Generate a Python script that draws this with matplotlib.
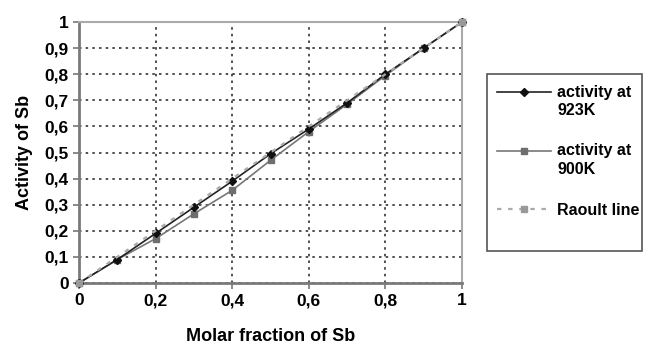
import matplotlib.pyplot as plt
from matplotlib.patches import Rectangle
from matplotlib.lines import Line2D

plt.rcParams['font.family'] = ['Liberation Sans', 'DejaVu Sans']

# Molar fraction of Sb
x_frac = [0, 0.1, 0.2, 0.3, 0.4, 0.5, 0.6, 0.7, 0.8, 0.9, 1.0]
# activity at 923K
act_923 = [0, 0.09, 0.19, 0.29, 0.39, 0.495, 0.59, 0.69, 0.80, 0.90, 1.0]
# activity at 900K
act_900 = [0, 0.09, 0.17, 0.265, 0.355, 0.47, 0.58, 0.685, 0.795, 0.90, 1.0]
# Raoult line (ideal solution)
raoult_x = [0, 1]
raoult_y = [0, 1]

x_ticks = [0, 0.2, 0.4, 0.6, 0.8, 1.0]
x_labels = ['0', '0,2', '0,4', '0,6', '0,8', '1']
y_ticks = [0, 0.1, 0.2, 0.3, 0.4, 0.5, 0.6, 0.7, 0.8, 0.9, 1.0]
y_labels = ['0', '0,1', '0,2', '0,3', '0,4', '0,5', '0,6', '0,7', '0,8', '0,9', '1']

W, H = 646, 347
fig = plt.figure(figsize=(W / 100, H / 100), dpi=100)
ax = fig.add_axes([79 / W, 1 - 283 / H, 383 / W, 261 / H])

raoult_style = dict(color='#aaaaaa', linestyle=(0, (2, 3)), linewidth=1.6, marker='s',
                    markersize=5, markerfacecolor='#999999', markeredgecolor='#999999')
s900_style = dict(color='#777777', linewidth=1.2, marker='s', markersize=5,
                  markerfacecolor='#6e6e6e', markeredgecolor='#6e6e6e')
s923_style = dict(color='#222222', linewidth=1.2, marker='D', markersize=4,
                  markerfacecolor='#111111', markeredgecolor='#111111')

ax.plot(x_frac, act_900, zorder=4, clip_on=False, **s900_style)
ax.plot(x_frac, act_923, zorder=5, clip_on=False, **s923_style)
ax.plot(raoult_x, raoult_y, zorder=6, clip_on=False, **raoult_style)

ax.set_xlim(0, 1)
ax.set_ylim(0, 1)
ax.set_xticks(x_ticks)
ax.set_xticklabels(x_labels)
ax.set_yticks(y_ticks)
ax.set_yticklabels(y_labels)
ax.tick_params(axis='both', labelsize=12.5, length=4, color='#777777', width=1.2)
for lbl in ax.get_xticklabels() + ax.get_yticklabels():
    lbl.set_fontweight('bold')

ax.grid(True, color='#333333', linestyle=(0, (1.5, 2.5)), linewidth=1.2)
ax.set_axisbelow(True)
for side in ['left', 'bottom']:
    ax.spines[side].set_color('#7a7a7a')
    ax.spines[side].set_linewidth(2)
for side in ['top', 'right']:
    ax.spines[side].set_color('#aaaaaa')
    ax.spines[side].set_linewidth(1.5)

ax.set_xlabel('Molar fraction of Sb', fontsize=13, fontweight='bold', labelpad=14)
ax.set_ylabel('Activity of Sb', fontsize=13, fontweight='bold', labelpad=8)

# Excel-style legend: frame, handles aligned with the first text line
fig.patches.append(Rectangle((487 / W, 1 - 251 / H), 155 / W, 177 / H,
                             transform=fig.transFigure, fill=False,
                             edgecolor='#555555', linewidth=1.2))

entries = [
    (s923_style, 92, ['activity at', '923K'], [97, 115]),
    (s900_style, 151, ['activity at', '900K'], [155, 174]),
    (raoult_style, 209, ['Raoult line'], [215]),
]
for style, hy, lines, baselines in entries:
    fig.add_artist(Line2D([497 / W, 524 / W, 551 / W], [1 - hy / H] * 3,
                          transform=fig.transFigure, markevery=[1], **style))
    for txt, by in zip(lines, baselines):
        fig.text(557 / W, 1 - by / H, txt, fontsize=11.5, fontweight='bold',
                 va='baseline', ha='left')

fig.savefig('out.png', dpi=100)
